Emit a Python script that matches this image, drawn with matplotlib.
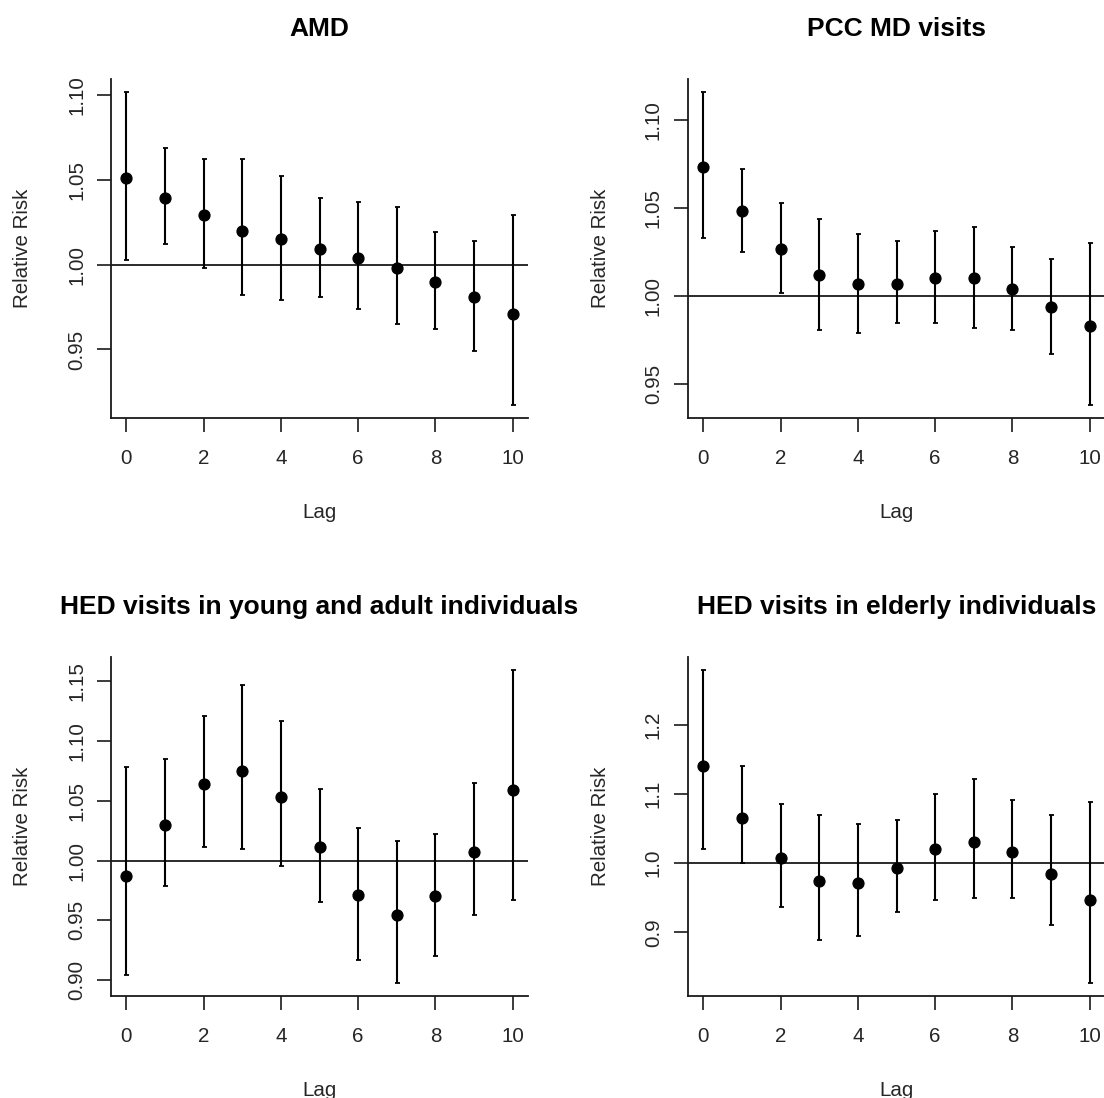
import numpy as np
import matplotlib.pyplot as plt

plt.rcParams['font.family'] = ['Liberation Sans', 'DejaVu Sans']

lags = list(range(11))

# AMD
amd_rr = [1.051, 1.039, 1.029, 1.020, 1.015, 1.009, 1.004, 0.998, 0.990, 0.981, 0.971]
amd_lo = [1.003, 1.012, 0.998, 0.982, 0.979, 0.981, 0.974, 0.965, 0.962, 0.949, 0.917]
amd_hi = [1.102, 1.069, 1.062, 1.062, 1.052, 1.039, 1.037, 1.034, 1.019, 1.014, 1.029]

# PCC MD visits
pcc_rr = [1.073, 1.048, 1.027, 1.012, 1.007, 1.007, 1.010, 1.010, 1.004, 0.994, 0.983]
pcc_lo = [1.033, 1.025, 1.002, 0.981, 0.979, 0.985, 0.985, 0.982, 0.981, 0.967, 0.938]
pcc_hi = [1.116, 1.072, 1.053, 1.044, 1.035, 1.031, 1.037, 1.039, 1.028, 1.021, 1.030]

# HED visits, young and adult
young_rr = [0.987, 1.030, 1.064, 1.075, 1.053, 1.011, 0.971, 0.954, 0.970, 1.007, 1.059]
young_lo = [0.904, 0.979, 1.011, 1.010, 0.995, 0.965, 0.917, 0.897, 0.920, 0.954, 0.967]
young_hi = [1.078, 1.085, 1.121, 1.147, 1.117, 1.060, 1.027, 1.016, 1.022, 1.065, 1.160]

# HED visits, elderly
old_rr = [1.141, 1.066, 1.008, 0.974, 0.972, 0.993, 1.020, 1.030, 1.016, 0.985, 0.947]
old_lo = [1.021, 1.000, 0.937, 0.889, 0.895, 0.929, 0.946, 0.950, 0.950, 0.910, 0.826]
old_hi = [1.280, 1.140, 1.086, 1.069, 1.056, 1.063, 1.100, 1.121, 1.092, 1.069, 1.088]

titles = ['AMD', 'PCC MD visits',
          'HED visits in young and adult individuals',
          'HED visits in elderly individuals']
yticks = [[0.95, 1.00, 1.05, 1.10],
          [0.95, 1.00, 1.05, 1.10],
          [0.90, 0.95, 1.00, 1.05, 1.10, 1.15],
          [0.9, 1.0, 1.1, 1.2]]
ytick_fmt = ['%.2f', '%.2f', '%.2f', '%.1f']

W, H = 1104, 1098
fig = plt.figure(figsize=(W / 100, H / 100), dpi=100)

# plot regions in pixels: left, top
lefts = [111, 688, 111, 688]
tops = [79, 79, 657, 657]
pw, ph = 417, 339

series = [(amd_rr, amd_lo, amd_hi), (pcc_rr, pcc_lo, pcc_hi),
          (young_rr, young_lo, young_hi), (old_rr, old_lo, old_hi)]

ink = '#1a1a1a'
for i, (rr, lo, hi) in enumerate(series):
    ax = fig.add_axes([lefts[i] / W, (H - tops[i] - ph) / H, pw / W, ph / H])
    rr, lo, hi = np.array(rr), np.array(lo), np.array(hi)
    ax.errorbar(lags, rr, yerr=[rr - lo, hi - rr], fmt='o', color='black',
                ms=7.8, elinewidth=1.5, capsize=1.8, capthick=1.3, zorder=3)
    ax.axhline(1.0, color=ink, lw=1.3, zorder=2)

    # R-style 4% extension
    ax.set_xlim(-0.4, 10.4)
    r = hi.max() - lo.min()
    ax.set_ylim(lo.min() - 0.04 * r, hi.max() + 0.04 * r)

    ax.set_xticks([0, 2, 4, 6, 8, 10])
    ax.set_yticks(yticks[i])
    ax.set_yticklabels([ytick_fmt[i] % v for v in yticks[i]])
    for lbl in ax.get_yticklabels():
        lbl.set_rotation(90)
        lbl.set_va('center')

    ax.tick_params(direction='out', length=10, width=1.2, color=ink,
                   labelsize=14.8, labelcolor='#262626')
    ax.tick_params(axis='x', pad=12)
    ax.tick_params(axis='y', pad=8)

    for s in ['top', 'right']:
        ax.spines[s].set_visible(False)
    for s in ['left', 'bottom']:
        ax.spines[s].set_linewidth(1.3)
        ax.spines[s].set_color(ink)

    ax.set_xlabel('Lag', fontsize=14.8, color='#262626', va='center')
    ax.xaxis.set_label_coords(0.5, -94 / ph)
    ax.set_ylabel('Relative Risk', fontsize=14.8, color='#262626', va='center')
    ax.yaxis.set_label_coords(-88 / pw, 0.5)

    ax.set_title(titles[i], fontsize=19, fontweight='bold', color='black',
                 y=1 + 50 / ph, va='center', pad=0)

fig.savefig('out.png', dpi=100)
